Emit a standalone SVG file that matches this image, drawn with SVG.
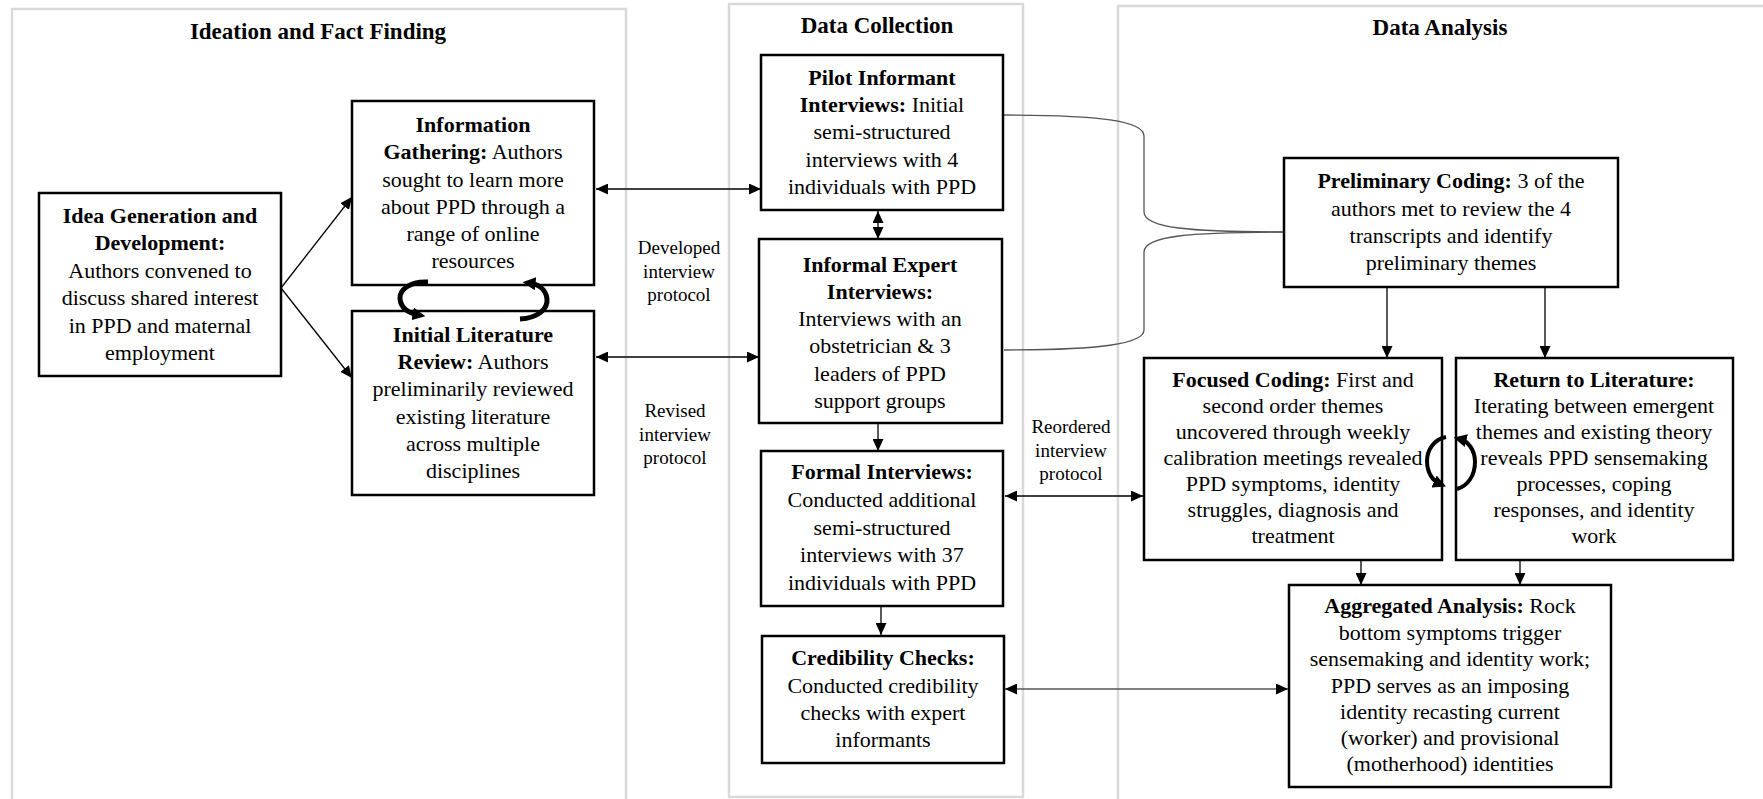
<svg xmlns="http://www.w3.org/2000/svg" width="1763" height="799" viewBox="0 0 1763 799">
<style>
text{font-family:"Liberation Serif","Times New Roman",serif;font-size:22px;fill:#000;text-anchor:middle}
.t{font-size:23px;font-weight:bold}
.b{font-weight:bold}
.lbl{font-size:19px}
.panel{fill:none;stroke:#d9d9d9;stroke-width:2.5}
.box{fill:#fff;stroke:#000;stroke-width:2.5}
.ln{fill:none;stroke:#000;stroke-width:1.3}
.gl{fill:none;stroke:#555;stroke-width:1.3}
.cyc{fill:none;stroke:#000;stroke-width:5}
</style>
<defs>
<marker id="ah" viewBox="0 0 12 12" refX="12" refY="6" markerWidth="12" markerHeight="11" markerUnits="userSpaceOnUse" orient="auto-start-reverse" preserveAspectRatio="none"><path d="M0,0 L12,6 L0,12 z" fill="#000"/></marker>
<marker id="ch" viewBox="0 0 10 10" refX="5" refY="5" markerWidth="13" markerHeight="13" markerUnits="userSpaceOnUse" orient="auto"><path d="M0,0 L10,5 L0,10 z" fill="#000"/></marker>
</defs>
<rect width="1763" height="799" fill="#fff"/>

<g id="panels">
<path class="panel" d="M12,805 L12,9 L626,9 L626,805"/>
<rect class="panel" x="729" y="4" width="294" height="793"/>
<path class="panel" d="M1118,805 L1118,6 L1770,6"/>
<text class="t" x="318" y="39">Ideation and Fact Finding</text>
<text class="t" x="877" y="33">Data Collection</text>
<text class="t" x="1440" y="35">Data Analysis</text>
</g>

<g id="connectors">
<line class="ln" x1="281" y1="288" x2="352" y2="197" marker-end="url(#ah)"/>
<line class="ln" x1="281" y1="288" x2="352" y2="378" marker-end="url(#ah)"/>
<line class="ln" x1="596" y1="189" x2="761" y2="189" marker-start="url(#ah)" marker-end="url(#ah)"/>
<line class="ln" x1="596" y1="357" x2="759" y2="357" marker-start="url(#ah)" marker-end="url(#ah)"/>
<line class="ln" x1="878" y1="211" x2="878" y2="239" marker-start="url(#ah)" marker-end="url(#ah)"/>
<line class="ln" x1="878" y1="423" x2="878" y2="451" marker-end="url(#ah)"/>
<line class="ln" x1="881" y1="607" x2="881" y2="635" marker-end="url(#ah)"/>
<line class="ln" x1="1005" y1="496" x2="1143" y2="496" marker-start="url(#ah)" marker-end="url(#ah)"/>
<line class="gl" x1="1005" y1="689" x2="1288" y2="689" marker-start="url(#ah)" marker-end="url(#ah)"/>
<line class="ln" x1="1387" y1="287" x2="1387" y2="358" marker-end="url(#ah)"/>
<line class="ln" x1="1545" y1="287" x2="1545" y2="358" marker-end="url(#ah)"/>
<line class="ln" x1="1361" y1="560" x2="1361" y2="585" marker-end="url(#ah)"/>
<line class="ln" x1="1520" y1="560" x2="1520" y2="585" marker-end="url(#ah)"/>
<path class="gl" d="M1004,115 C1100,115 1144,121 1144,136 L1144,212 C1144,228 1190,232 1284,232"/>
<path class="gl" d="M1004,350 C1100,350 1144,344 1144,330 L1144,252 C1144,236 1190,232 1284,232"/>
</g>

<g id="labels">
<text class="lbl" x="679" y="254">Developed</text>
<text class="lbl" x="679" y="278">interview</text>
<text class="lbl" x="679" y="301">protocol</text>
<text class="lbl" x="675" y="417">Revised</text>
<text class="lbl" x="675" y="441">interview</text>
<text class="lbl" x="675" y="464">protocol</text>
<text class="lbl" x="1071" y="433">Reordered</text>
<text class="lbl" x="1071" y="457">interview</text>
<text class="lbl" x="1071" y="480">protocol</text>
</g>

<g id="idea">
<rect class="box" x="39" y="193" width="242" height="183"/>
<text x="160" y="223" class="b">Idea Generation and</text>
<text x="160" y="250" class="b">Development:</text>
<text x="160" y="278">Authors convened to</text>
<text x="160" y="305">discuss shared interest</text>
<text x="160" y="333">in PPD and maternal</text>
<text x="160" y="360">employment</text>
</g>

<g id="info">
<rect class="box" x="352" y="101" width="242" height="184"/>
<text x="473" y="132" class="b">Information</text>
<text x="473" y="159"><tspan class="b">Gathering:</tspan> Authors</text>
<text x="473" y="187">sought to learn more</text>
<text x="473" y="214">about PPD through a</text>
<text x="473" y="241">range of online</text>
<text x="473" y="268">resources</text>
</g>

<g id="litreview">
<rect class="box" x="352" y="311" width="242" height="184"/>
<text x="473" y="342" class="b">Initial Literature</text>
<text x="473" y="369"><tspan class="b">Review:</tspan> Authors</text>
<text x="473" y="396">preliminarily reviewed</text>
<text x="473" y="424">existing literature</text>
<text x="473" y="451">across multiple</text>
<text x="473" y="478">disciplines</text>
</g>

<g id="pilot">
<rect class="box" x="761" y="55" width="242" height="155"/>
<text x="882" y="85" class="b">Pilot Informant</text>
<text x="882" y="112"><tspan class="b">Interviews:</tspan> Initial</text>
<text x="882" y="139">semi-structured</text>
<text x="882" y="167">interviews with 4</text>
<text x="882" y="194">individuals with PPD</text>
</g>

<g id="informal">
<rect class="box" x="759" y="239" width="243" height="184"/>
<text x="880" y="272" class="b">Informal Expert</text>
<text x="880" y="299" class="b">Interviews:</text>
<text x="880" y="326">Interviews with an</text>
<text x="880" y="353">obstetrician &amp; 3</text>
<text x="880" y="381">leaders of PPD</text>
<text x="880" y="408">support groups</text>
</g>

<g id="formal">
<rect class="box" x="761" y="451" width="242" height="155"/>
<text x="882" y="479" class="b">Formal Interviews:</text>
<text x="882" y="507">Conducted additional</text>
<text x="882" y="535">semi-structured</text>
<text x="882" y="562">interviews with 37</text>
<text x="882" y="590">individuals with PPD</text>
</g>

<g id="credibility">
<rect class="box" x="762" y="636" width="242" height="127"/>
<text x="883" y="665" class="b">Credibility Checks:</text>
<text x="883" y="693">Conducted credibility</text>
<text x="883" y="720">checks with expert</text>
<text x="883" y="747">informants</text>
</g>

<g id="prelim">
<rect class="box" x="1284" y="158" width="334" height="129"/>
<text x="1451" y="188"><tspan class="b">Preliminary Coding:</tspan> 3 of the</text>
<text x="1451" y="216">authors met to review the 4</text>
<text x="1451" y="243">transcripts and identify</text>
<text x="1451" y="270">preliminary themes</text>
</g>

<g id="focused">
<rect class="box" x="1144" y="358" width="298" height="202"/>
<text x="1293" y="387"><tspan class="b">Focused Coding:</tspan> First and</text>
<text x="1293" y="413">second order themes</text>
<text x="1293" y="439">uncovered through weekly</text>
<text x="1293" y="465">calibration meetings revealed</text>
<text x="1293" y="491">PPD symptoms, identity</text>
<text x="1293" y="517">struggles, diagnosis and</text>
<text x="1293" y="543">treatment</text>
</g>

<g id="returnlit">
<rect class="box" x="1456" y="358" width="277" height="202"/>
<text x="1594" y="387" class="b">Return to Literature:</text>
<text x="1594" y="413">Iterating between emergent</text>
<text x="1594" y="439">themes and existing theory</text>
<text x="1594" y="465">reveals PPD sensemaking</text>
<text x="1594" y="491">processes, coping</text>
<text x="1594" y="517">responses, and identity</text>
<text x="1594" y="543">work</text>
</g>

<g id="aggregated">
<rect class="box" x="1289" y="585" width="322" height="202"/>
<text x="1450" y="613"><tspan class="b">Aggregated Analysis:</tspan> Rock</text>
<text x="1450" y="640">bottom symptoms trigger</text>
<text x="1450" y="666">sensemaking and identity work;</text>
<text x="1450" y="693">PPD serves as an imposing</text>
<text x="1450" y="719">identity recasting current</text>
<text x="1450" y="745">(worker) and provisional</text>
<text x="1450" y="771">(motherhood) identities</text>
</g>

<g id="cycle-connectors">
<path class="cyc" d="M428,282 C410,281 399,290 400,299 C401,308 408,313 419,315" marker-end="url(#ch)"/>
<path class="cyc" d="M520,319 C538,318 548,309 547,299 C546,289 538,284 529,283" marker-end="url(#ch)"/>
<path class="cyc" style="stroke-width:4" d="M1446,437 C1435,439 1427,449 1427,461 C1427,473 1433,481 1440,484" marker-end="url(#ch)"/>
<path class="cyc" style="stroke-width:4" d="M1457,489 C1468,486 1475,475 1475,462 C1475,450 1468,441 1460,439" marker-end="url(#ch)"/>
</g>
</svg>
